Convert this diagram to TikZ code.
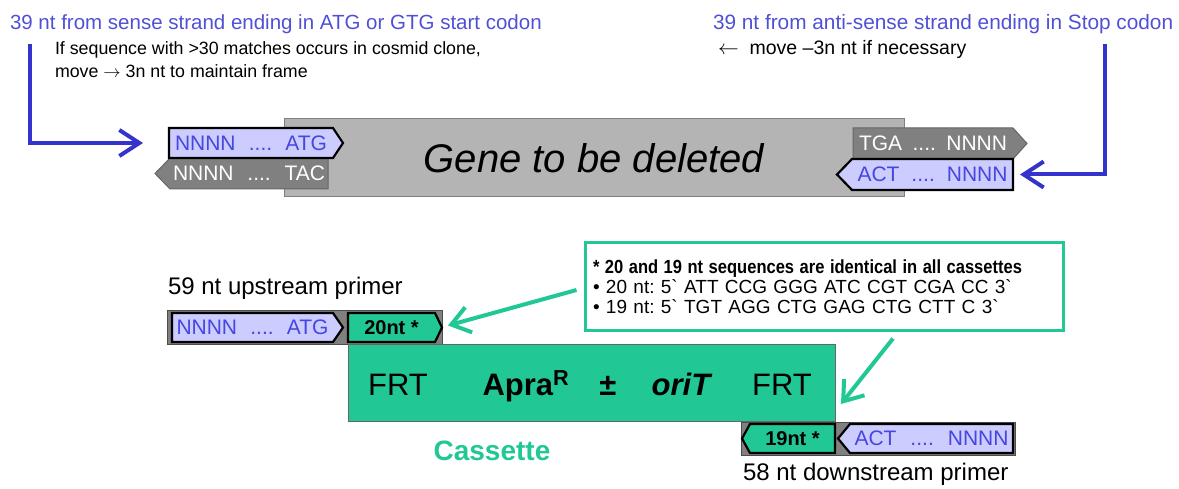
\documentclass[tikz,border=0pt]{standalone}
\usepackage{fontspec}
\setmainfont{Liberation Sans}
\usetikzlibrary{calc,arrows.meta}
\pgfdeclarelayer{bg}
\pgfsetlayers{bg,main}
\frenchspacing
\definecolor{arrowblue}{RGB}{52,52,205}
\definecolor{txtblue}{RGB}{80,80,215}
\definecolor{seqblue}{RGB}{70,70,225}
\definecolor{lav}{RGB}{204,204,255}
\definecolor{strandgray}{RGB}{128,128,128}
\definecolor{genegray}{RGB}{180,180,180}
\definecolor{cassgreen}{RGB}{33,200,150}
\newcommand\tagfont{\fontsize{21}{24}\selectfont}
\newcommand\lblfont{\fontsize{20.5}{23}\selectfont}
\newcommand\notefont{\fontsize{19}{20}\selectfont}
\newcommand\primerfont{\fontsize{24}{26}\selectfont}
\newcommand\genefont{\fontsize{40}{43}\selectfont\itshape}
\newcommand\cassfont{\fontsize{31}{34}\selectfont}
\newcommand\seqtxt[3]{\makebox[#3pt]{#1\hfill....\hfill#2}}
\def\tagright[#1](#2)(#3){\begin{pgfonlayer}{bg}\draw[#1] (#2.north west) -- (#2.north east) -- ($(#2.east)+(#3,0)$) -- (#2.south east) -- (#2.south west) -- cycle;\end{pgfonlayer}}
\def\tagleft[#1](#2)(#3){\begin{pgfonlayer}{bg}\draw[#1] (#2.north east) -- (#2.north west) -- ($(#2.west)+(-#3,0)$) -- (#2.south west) -- (#2.south east) -- cycle;\end{pgfonlayer}}

\begin{document}
\begin{tikzpicture}[x=1pt,y=-1pt,
    lbl/.style={inner sep=0pt,outer sep=0pt,font=\lblfont,anchor=base west},
    tag/.style={inner sep=0pt,outer sep=0pt,anchor=north west,font=\tagfont},
    lavtag/.style={fill=lav,draw=black,line width=2.2pt},
    graytag/.style={fill=strandgray,draw=black!60,line width=1pt},
    greentag/.style={fill=cassgreen,draw=black,line width=2.2pt},
    primerback/.style={fill=strandgray,draw=black!70,line width=1pt,inner sep=0pt,anchor=north west},
    bluearrow/.style={draw=arrowblue,line width=4pt,-{Straight Barb[length=20pt,width=26pt]}},
    greenarrow/.style={draw=cassgreen,line width=4pt,-{Straight Barb[length=18pt,width=26pt]}}]
  \useasboundingbox (0,0) rectangle (1179,489);

  %%%%% labels above the gene %%%%%
  \node[lbl,text=txtblue] (senseLbl) at (10,30) {39 nt from sense strand ending in ATG or GTG start codon};
  \node[lbl,align=left,anchor=north west,font=\fontsize{17.8}{23}\selectfont] (shiftLbl) at (55,42) {If sequence with >30 matches occurs in cosmid clone,\\move $\rightarrow$ 3n nt to maintain frame};
  \node[lbl,text=txtblue,font=\fontsize{20.8}{23}\selectfont] (antiLbl) at (713,30) {39 nt from anti-sense strand ending in Stop codon};
  \node[lbl,font=\fontsize{19.5}{22}\selectfont] (backLbl) at (718,55) {$\leftarrow$\ \ move –3n nt if necessary};

  %%%%% gene with flanking strands %%%%%
  \begin{pgfonlayer}{bg}
    \node[draw=black!50,fill=genegray,line width=1pt,minimum width=620,minimum height=78,inner sep=0pt,font=\genefont] (gene) at (594,158) {Gene to be deleted};
  \end{pgfonlayer}

  \node[tag,minimum width=158,minimum height=31,text=white] (revA) at (170,158) {\seqtxt{NNNN}{TAC}{152}};
  \tagleft[graytag](revA)(15)
  \node[tag,minimum width=164,minimum height=30,text=seqblue] (fwdA) at (169,128) {\seqtxt{NNNN}{ATG}{152}};
  \tagright[lavtag](fwdA)(10)

  \node[tag,minimum width=160,minimum height=31,text=white] (revB) at (853,128) {\seqtxt{TGA}{NNNN}{148}};
  \tagright[graytag](revB)(14)
  \node[tag,minimum width=161,minimum height=31,text=seqblue] (fwdB) at (852,159) {\seqtxt{ACT}{NNNN}{150}};
  \tagleft[lavtag](fwdB)(15)

  \coordinate (lstart) at (30,44);
  \coordinate (rstart) at (1105,44);
  \draw[bluearrow] (lstart) |- ($(fwdA.west)+(-26,0)$);
  \draw[bluearrow] (rstart) |- ($(fwdB.east)+(7,0)$);

  %%%%% primers and cassette %%%%%
  \node[lbl,font=\primerfont] (upLbl) at (168,295) {59 nt upstream primer};
  \begin{pgfonlayer}{bg}
    \node[primerback,minimum width=275,minimum height=34] (upBack) at (167,310) {};
    \node[primerback,minimum width=274,minimum height=33] (dnBack) at (741,422) {};
  \end{pgfonlayer}
  \node[tag,minimum width=161,minimum height=29,text=seqblue] (upA) at (172,313) {\seqtxt{NNNN}{ATG}{152}};
  \tagright[lavtag](upA)(10)
  \node[tag,minimum width=87,minimum height=29,font=\fontsize{20}{22}\selectfont\bfseries] (up20) at (348,313) {20nt *};
  \tagright[greentag](up20)(7)

  \node[fill=cassgreen,draw=black!60,line width=1pt,minimum width=487,minimum height=77,inner sep=0pt,anchor=north west] (cass) at (348,344) {};
  \node[font=\cassfont,anchor=base] (frtL) at (398,395) {FRT};
  \node[font=\cassfont\bfseries,anchor=base] (apra) at (526,395) {Apra\textsuperscript{R}};
  \node[font=\cassfont\bfseries,anchor=base] (pm) at (608,395) {±};
  \node[font=\cassfont\bfseries\itshape,anchor=base] (orit) at (681,395) {oriT};
  \node[font=\cassfont,anchor=base] (frtR) at (782,395) {FRT};
  \node[font=\fontsize{28}{30}\selectfont\bfseries,text=cassgreen,anchor=base] (cassLbl) at (492,460) {Cassette};

  \node[tag,minimum width=85,minimum height=29,font=\fontsize{20}{22}\selectfont\bfseries] (dn19) at (750,424) {19nt *};
  \tagleft[greentag](dn19)(8)
  \node[tag,minimum width=163,minimum height=29,text=seqblue] (dnA) at (850,424) {\seqtxt{ACT}{NNNN}{154}};
  \tagleft[lavtag](dnA)(12)
  \node[lbl,font=\primerfont] (dnLbl) at (743,480) {58 nt downstream primer};

  %%%%% note on the shared sequences %%%%%
  \node[draw=cassgreen,line width=3pt,font=\notefont,align=left,text width=462,inner xsep=8pt,minimum height=88] (note) at (824,287)
    {\scalebox{0.87}[1]{\bfseries * 20 and 19 nt sequences are identical in all cassettes}\\
     \textbullet\ 20 nt: 5\textasciigrave\ ATT CCG GGG ATC CGT CGA CC 3\textasciigrave\\
     \textbullet\ 19 nt: 5\textasciigrave\ TGT AGG CTG GAG CTG CTT C 3\textasciigrave};
  \draw[greenarrow] ($(note.west)+(-7,3)$) -- ($(up20.east)+(13,-2)$);
  \draw[greenarrow] ($(note.south)+(69,6)$) -- ($(cass.east)+(5,21)$);
\end{tikzpicture}
\end{document}
